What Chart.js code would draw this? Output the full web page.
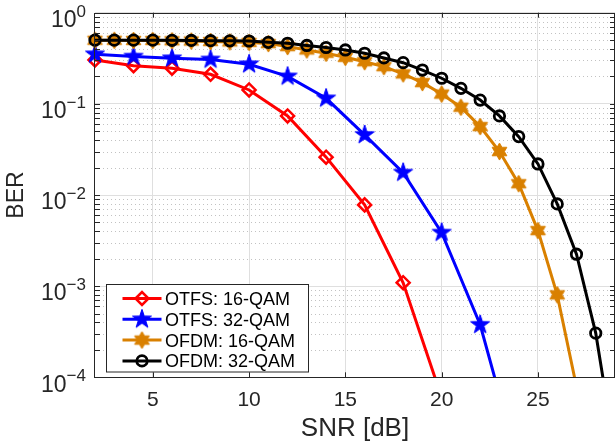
<!DOCTYPE html>
<html><head><meta charset="utf-8">
<script src="https://cdn.jsdelivr.net/npm/chart.js@4/dist/chart.umd.min.js"></script>
<style>html,body{margin:0;padding:0;background:#fff;overflow:hidden}canvas{display:block}</style>
</head><body>
<canvas id="c" width="615" height="446"></canvas>
<script>
// ---------- data ----------
const snrOtfs16 = [2, 4, 6, 8, 10, 12, 14, 16, 18, 20];
const berOtfs16 = [0.303, 0.262, 0.246, 0.211, 0.142, 0.0737, 0.026, 0.00779, 0.00109, 0.00006];

const snrOtfs32 = [2, 4, 6, 8, 10, 12, 14, 16, 18, 20, 22, 24];
const berOtfs32 = [0.350, 0.330, 0.316, 0.307, 0.272, 0.200, 0.115, 0.0456, 0.0176, 0.00387, 0.000377, 0.000011];

const snrOfdm16 = [2, 3, 4, 5, 6, 7, 8, 9, 10, 11, 12, 13, 14, 15, 16, 17, 18, 19, 20, 21, 22, 23, 24, 25, 26, 27];
const berOfdm16 = [0.498, 0.498, 0.496, 0.496, 0.492, 0.489, 0.483, 0.478, 0.472, 0.458, 0.425, 0.390, 0.359, 0.324,
                   0.290, 0.256, 0.213, 0.171, 0.128, 0.0918, 0.0563, 0.0300, 0.0133, 0.00407, 0.000803, 0.000079];

const snrOfdm32 = [2, 3, 4, 5, 6, 7, 8, 9, 10, 11, 12, 13, 14, 15, 16, 17, 18, 19, 20, 21, 22, 23, 24, 25, 26, 27, 28, 29];
const berOfdm32 = [0.500, 0.500, 0.500, 0.500, 0.498, 0.496, 0.493, 0.491, 0.489, 0.473, 0.462, 0.437, 0.415, 0.390,
                   0.359, 0.319, 0.283, 0.235, 0.191, 0.148, 0.110, 0.0737, 0.0437, 0.0219, 0.00798, 0.00224, 0.000305, 0.000015];

const seriesLabels = ['OTFS: 16-QAM', 'OTFS: 32-QAM', 'OFDM: 16-QAM', 'OFDM: 32-QAM'];
const xTicks = [5, 10, 15, 20, 25];
const yTicks = [1e-4, 1e-3, 1e-2, 1e-1, 1];
const yTickBase = '10';
const yTickExp = ['\u22124', '\u22123', '\u22122', '\u22121', '0'];
const xTitle = 'SNR [dB]';
const yTitle = 'BER';

// ---------- styling ----------
const FONT = "'Liberation Sans', Arial, Helvetica, sans-serif";
const AXC = '#262626';
const RED = '#ff0000', BLUE = '#0000ff', ORANGE = '#d98000', BLACK = '#000000';

function starCanvas(n, R, r, color) {
  const s = Math.ceil(2 * R + 4);
  const c = document.createElement('canvas');
  c.width = s; c.height = s;
  const g = c.getContext('2d');
  g.translate(s / 2, s / 2);
  g.beginPath();
  for (let i = 0; i < 2 * n; i++) {
    const rad = i % 2 === 0 ? R : r;
    const ang = -Math.PI / 2 + i * Math.PI / n;
    g.lineTo(rad * Math.cos(ang), rad * Math.sin(ang));
  }
  g.closePath();
  g.fillStyle = color; g.fill();
  g.strokeStyle = color; g.lineWidth = 1; g.stroke();
  return c;
}
const pentagram = starCanvas(5, 10, 3.9, BLUE);
const hexagram = starCanvas(6, 8.5, 4.9, ORANGE);

const clipBottom = {left: false, top: false, right: false, bottom: 0};
function pts(xs, ys) { return xs.map((x, i) => ({x: x, y: ys[i]})); }

const datasets = [
  {label: seriesLabels[0], data: pts(snrOtfs16, berOtfs16), borderColor: RED, borderWidth: 3,
   pointStyle: 'rectRot', pointRadius: 6.5, pointBorderWidth: 2.5, pointBorderColor: RED,
   pointBackgroundColor: 'rgba(0,0,0,0)', order: 3},
  {label: seriesLabels[1], data: pts(snrOtfs32, berOtfs32), borderColor: BLUE, borderWidth: 3,
   pointStyle: pentagram, pointRadius: 9, pointBorderWidth: 0, pointBorderColor: BLUE,
   pointBackgroundColor: BLUE, order: 2},
  {label: seriesLabels[2], data: pts(snrOfdm16, berOfdm16), borderColor: ORANGE, borderWidth: 3,
   pointStyle: hexagram, pointRadius: 8, pointBorderWidth: 0, pointBorderColor: ORANGE,
   pointBackgroundColor: ORANGE, order: 1},
  {label: seriesLabels[3], data: pts(snrOfdm32, berOfdm32), borderColor: BLACK, borderWidth: 3,
   pointStyle: 'circle', pointRadius: 5.2, pointBorderWidth: 2.8, pointBorderColor: BLACK,
   pointBackgroundColor: 'rgba(0,0,0,0)', order: 0}
].map(d => Object.assign(d, {tension: 0, fill: false, clip: clipBottom, pointHoverRadius: d.pointRadius}));

const matlabAxes = {
  id: 'matlabAxes',
  beforeDatasetsDraw(chart) {
    const {ctx, chartArea: a, scales: {y}} = chart;
    ctx.save();
    ctx.beginPath(); ctx.rect(a.left, a.top, a.right - a.left, a.bottom - a.top); ctx.clip();
    ctx.strokeStyle = '#c2c2c2'; ctx.lineWidth = 1; ctx.setLineDash([1, 3]);
    for (let k = 0; k < yTicks.length - 1; k++) {
      for (let m = 2; m <= 9; m++) {
        const py = Math.round(y.getPixelForValue(m * yTicks[k])) + 0.5;
        ctx.beginPath(); ctx.moveTo(a.left, py); ctx.lineTo(a.right, py); ctx.stroke();
      }
    }
    ctx.restore();
  },
  afterDatasetsDraw(chart) {
    const {ctx, chartArea: a, scales: {x, y}} = chart;
    ctx.save();
    ctx.strokeStyle = AXC; ctx.lineWidth = 1;
    ctx.strokeRect(Math.round(a.left) - 0.5, Math.round(a.top) + 0.5, a.right - a.left, Math.round(a.bottom) - Math.round(a.top));
    const TL = 5;
    ctx.beginPath();
    xTicks.forEach(v => {
      const px = Math.round(x.getPixelForValue(v)) + 0.5;
      ctx.moveTo(px, a.bottom); ctx.lineTo(px, a.bottom - TL);
      ctx.moveTo(px, a.top); ctx.lineTo(px, a.top + TL);
    });
    for (let k = 0; k < yTicks.length; k++) {
      const mults = k < yTicks.length - 1 ? [1, 2, 3, 4, 5, 6, 7, 8, 9] : [1];
      mults.forEach(m => {
        const py = Math.round(y.getPixelForValue(m * yTicks[k])) + 0.5;
        ctx.moveTo(a.left, py); ctx.lineTo(a.left + TL, py);
        ctx.moveTo(a.right, py); ctx.lineTo(a.right - TL, py);
      });
    }
    ctx.stroke();
    ctx.restore();
  },
  afterDraw(chart) {
    const {ctx, scales: {y}} = chart;
    ctx.save();
    // y tick labels with superscript exponents
    ctx.fillStyle = AXC; ctx.textAlign = 'left'; ctx.textBaseline = 'alphabetic';
    yTicks.forEach((v, i) => {
      const py = y.getPixelForValue(v);
      ctx.font = '17px ' + FONT; const ew = ctx.measureText(yTickExp[i]).width;
      ctx.font = '23px ' + FONT; const bw = ctx.measureText(yTickBase).width;
      const x0 = 86 - ew - bw;
      ctx.fillText(yTickBase, x0, py + 14.3);
      ctx.font = '17px ' + FONT; ctx.fillText(yTickExp[i], x0 + bw, py + 4);
    });
    // legend (MATLAB style: line segment + marker)
    const bx = 106.5, by = 284.5, bw2 = 202, bh = 87.5;
    ctx.fillStyle = '#ffffff'; ctx.fillRect(bx, by, bw2, bh);
    ctx.strokeStyle = AXC; ctx.lineWidth = 1; ctx.strokeRect(bx, by, bw2, bh);
    chart.data.datasets.forEach((d, i) => {
      const cy = 298.5 + i * 20.8;
      ctx.strokeStyle = d.borderColor; ctx.lineWidth = 3; ctx.setLineDash([]);
      ctx.beginPath(); ctx.moveTo(122.5, cy); ctx.lineTo(161.5, cy); ctx.stroke();
      ctx.fillStyle = d.pointBackgroundColor; ctx.strokeStyle = d.pointBorderColor; ctx.lineWidth = d.pointBorderWidth;
      Chart.helpers.drawPoint(ctx, {pointStyle: d.pointStyle, radius: d.pointRadius, rotation: 0, borderWidth: d.pointBorderWidth}, 142, cy);
      ctx.fillStyle = '#000000'; ctx.font = '18px ' + FONT; ctx.textBaseline = 'alphabetic';
      ctx.fillText(d.label, 165, cy + 6.5);
    });
    ctx.restore();
  }
};

new Chart(document.getElementById('c'), {
  type: 'line',
  data: {datasets: datasets},
  plugins: [matlabAxes],
  options: {
    responsive: false, animation: false, devicePixelRatio: 1,
    layout: {autoPadding: false, padding: {left: 0, right: -0.5, top: 12.7, bottom: 0}},
    plugins: {legend: {display: false}, tooltip: {enabled: false}},
    events: [],
    scales: {
      x: {
        type: 'linear', min: 2, max: 29,
        afterBuildTicks: s => { s.ticks = xTicks.map(v => ({value: v})); },
        afterFit: s => { s.height = 446 - 377.3; s.paddingLeft = 0; s.paddingRight = 0; s.paddingTop = 0; s.paddingBottom = 0; },
        grid: {color: '#dfdfdf', lineWidth: 1, drawTicks: false},
        border: {display: false},
        ticks: {font: {family: FONT, size: 21}, color: AXC, padding: 10, maxRotation: 0, autoSkip: false},
        title: {display: true, text: xTitle, color: AXC, font: {family: FONT, size: 26, lineHeight: 1}, padding: {top: 0, bottom: 4}}
      },
      y: {
        type: 'logarithmic', min: 1e-4, max: 1,
        afterBuildTicks: s => { s.ticks = yTicks.map(v => ({value: v})); },
        afterFit: s => { s.width = 95; s.paddingLeft = 0; s.paddingRight = 0; s.paddingTop = 0; s.paddingBottom = 0; },
        grid: {color: '#dfdfdf', lineWidth: 1, drawTicks: false},
        border: {display: false},
        ticks: {display: false},
        title: {display: true, text: yTitle, color: AXC, font: {family: FONT, size: 23, lineHeight: 1}, padding: {top: 5, bottom: 0}}
      }
    }
  }
});
</script>
</body></html>
